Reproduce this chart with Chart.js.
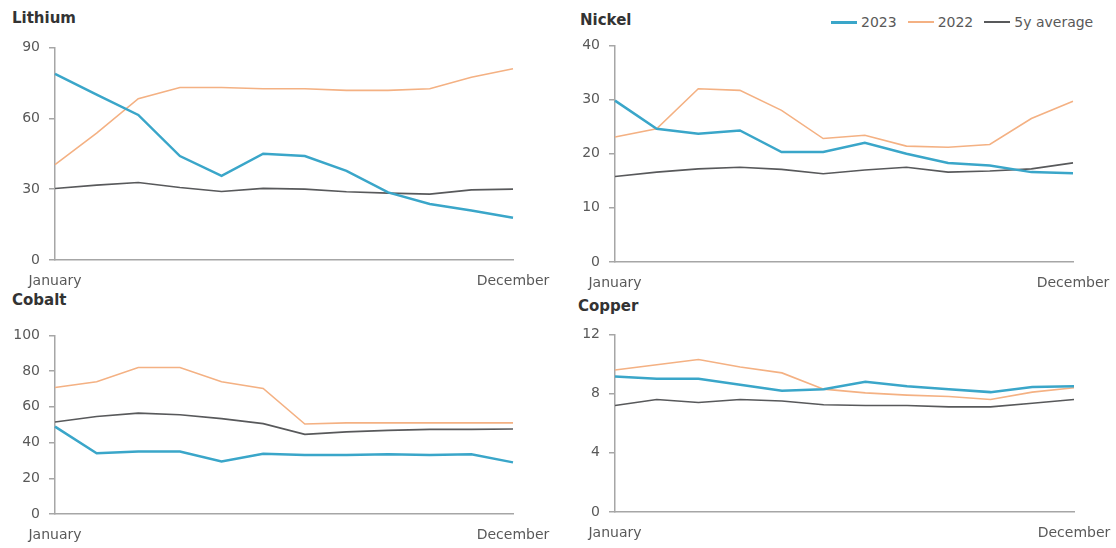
<!DOCTYPE html>
<html>
<head>
<meta charset="utf-8">
<script src="https://cdn.jsdelivr.net/npm/chart.js@4.4.0/dist/chart.umd.min.js"></script>
<style>
    body { margin:0; background:#fff; width:1116px; height:548px; position:relative; overflow:hidden; font-family:'DejaVu Sans', sans-serif; }
    canvas { position:absolute; }
    .title { position:absolute; font-weight:bold; font-size:15px; line-height:18px; color:#333; }
    #legend { position:absolute; left:831px; top:13px; display:flex; align-items:center; font-size:14px; line-height:18px; color:#595959; }
    #legend .sw { display:inline-block; width:26px; margin-right:4px; }
    #legend .item { display:flex; align-items:center; margin-right:11px; }
</style>
</head>
<body>

<div class="title" style="left:12px;top:9px">Lithium</div>
<div class="title" style="left:580px;top:11px">Nickel</div>
<div class="title" style="left:12px;top:291px">Cobalt</div>
<div class="title" style="left:578px;top:297px">Copper</div>

<div id="legend">
    <span class="item"><span class="sw" style="height:3px;background:#3aa6c9"></span>2023</span>
    <span class="item"><span class="sw" style="height:2px;background:#f4b183"></span>2022</span>
    <span class="item"><span class="sw" style="height:2px;background:#58595b"></span>5y average</span>
</div>

<canvas id="lithium" width="560" height="262" style="left:0;top:30px"></canvas>
<canvas id="nickel" width="556" height="266" style="left:560px;top:28px"></canvas>
<canvas id="cobalt" width="560" height="228" style="left:0;top:318px"></canvas>
<canvas id="copper" width="556" height="227" style="left:560px;top:317px"></canvas>

<script>

/*=============================================
DATA
=============================================*/

const months = ['January','February','March','April','May','June','July','August','September','October','November','December']

const seriesNames = ['2023','2022','5y average']

const lithium2023 = [78.8, 70, 61.4, 44, 35.6, 45, 44, 37.7, 28.6, 23.7, 21, 17.9]
const lithium2022 = [40.4, 53.7, 68.3, 73, 73, 72.5, 72.5, 71.8, 71.8, 72.5, 77.4, 81]
const lithiumAvg = [30.3, 31.7, 32.8, 30.7, 29, 30.3, 30, 28.9, 28.3, 27.9, 29.7, 30]

const nickel2023 = [29.8, 24.6, 23.7, 24.3, 20.3, 20.3, 22, 20, 18.3, 17.8, 16.6, 16.4]
const nickel2022 = [23.1, 24.6, 32, 31.7, 28, 22.8, 23.4, 21.4, 21.2, 21.7, 26.5, 29.7]
const nickelAvg = [15.8, 16.6, 17.2, 17.5, 17.1, 16.3, 17, 17.5, 16.6, 16.8, 17.2, 18.3]

const cobalt2023 = [48.9, 34, 35, 35, 29.4, 33.7, 33, 33, 33.5, 33, 33.5, 28.9]
const cobalt2022 = [70.8, 74, 82, 82, 74, 70.3, 50.4, 51, 51, 51, 51, 51]
const cobaltAvg = [51.5, 54.6, 56.5, 55.6, 53.4, 50.6, 44.6, 46, 46.8, 47.4, 47.4, 47.6]

const copper2023 = [9.16, 9.0, 9.0, 8.6, 8.2, 8.3, 8.8, 8.5, 8.3, 8.1, 8.45, 8.5]
const copper2022 = [9.6, 9.95, 10.3, 9.8, 9.4, 8.3, 8.05, 7.9, 7.8, 7.6, 8.1, 8.4]
const copperAvg = [7.2, 7.6, 7.4, 7.6, 7.5, 7.25, 7.2, 7.2, 7.1, 7.1, 7.35, 7.6]

const lithiumTicks = [0, 90, 30]
const nickelTicks = [0, 40, 10]
const cobaltTicks = [0, 100, 20]
const copperTicks = [0, 12, 4]

/*=============================================
STYLE
=============================================*/

const colors = ['#3aa6c9', '#f4b183', '#58595b']
const widths = [2.5, 1.6, 1.6]

Chart.defaults.font.family = "'DejaVu Sans', sans-serif"
Chart.defaults.font.size = 14
Chart.defaults.color = '#595959'

/*=============================================
MAKE CHART
=============================================*/

const makeChart = (id, values, ticks, rightPad)=>{

    let datasets = values.map((v, i)=>({
        label: seriesNames[i],
        data: v,
        borderColor: colors[i],
        borderWidth: widths[i],
        pointRadius: 0,
        tension: 0,
        fill: false
    }))

    let config = {
        type: 'line',
        data: { labels: months, datasets },
        options: {
            responsive: false,
            animation: false,
            layout: { padding: { top: 17, right: rightPad, bottom: 0, left: 0 } },
            plugins: { legend: { display: false }, tooltip: { enabled: false } },
            scales: {
                x: {
                    offset: false,
                    grid: { display: false },
                    border: { display: true, color: '#a6a6a6', width: 1.5 },
                    ticks: {
                        autoSkip: false,
                        maxRotation: 0,
                        padding: 5,
                        callback: (val, idx)=> (idx == 0 || idx == months.length - 1) ? months[idx] : ''
                    },
                    afterFit: s=>{ s.height = 32 }
                },
                y: {
                    min: ticks[0],
                    max: ticks[1],
                    grid: { display: true, drawOnChartArea: false, drawTicks: true, tickLength: 6, color: '#a6a6a6', lineWidth: 1.5 },
                    border: { display: true, color: '#a6a6a6', width: 1.5 },
                    ticks: { stepSize: ticks[2], padding: 9 },
                    afterFit: s=>{ s.width = 55 }
                }
            }
        }
    }

    let ctx = document.getElementById(id).getContext('2d')
    return new Chart(ctx, config)

}

makeChart('lithium', [lithium2023, lithium2022, lithiumAvg], lithiumTicks, 47)
makeChart('nickel', [nickel2023, nickel2022, nickelAvg], nickelTicks, 43)
makeChart('cobalt', [cobalt2023, cobalt2022, cobaltAvg], cobaltTicks, 47)
makeChart('copper', [copper2023, copper2022, copperAvg], copperTicks, 42)

</script>
</body>
</html>
